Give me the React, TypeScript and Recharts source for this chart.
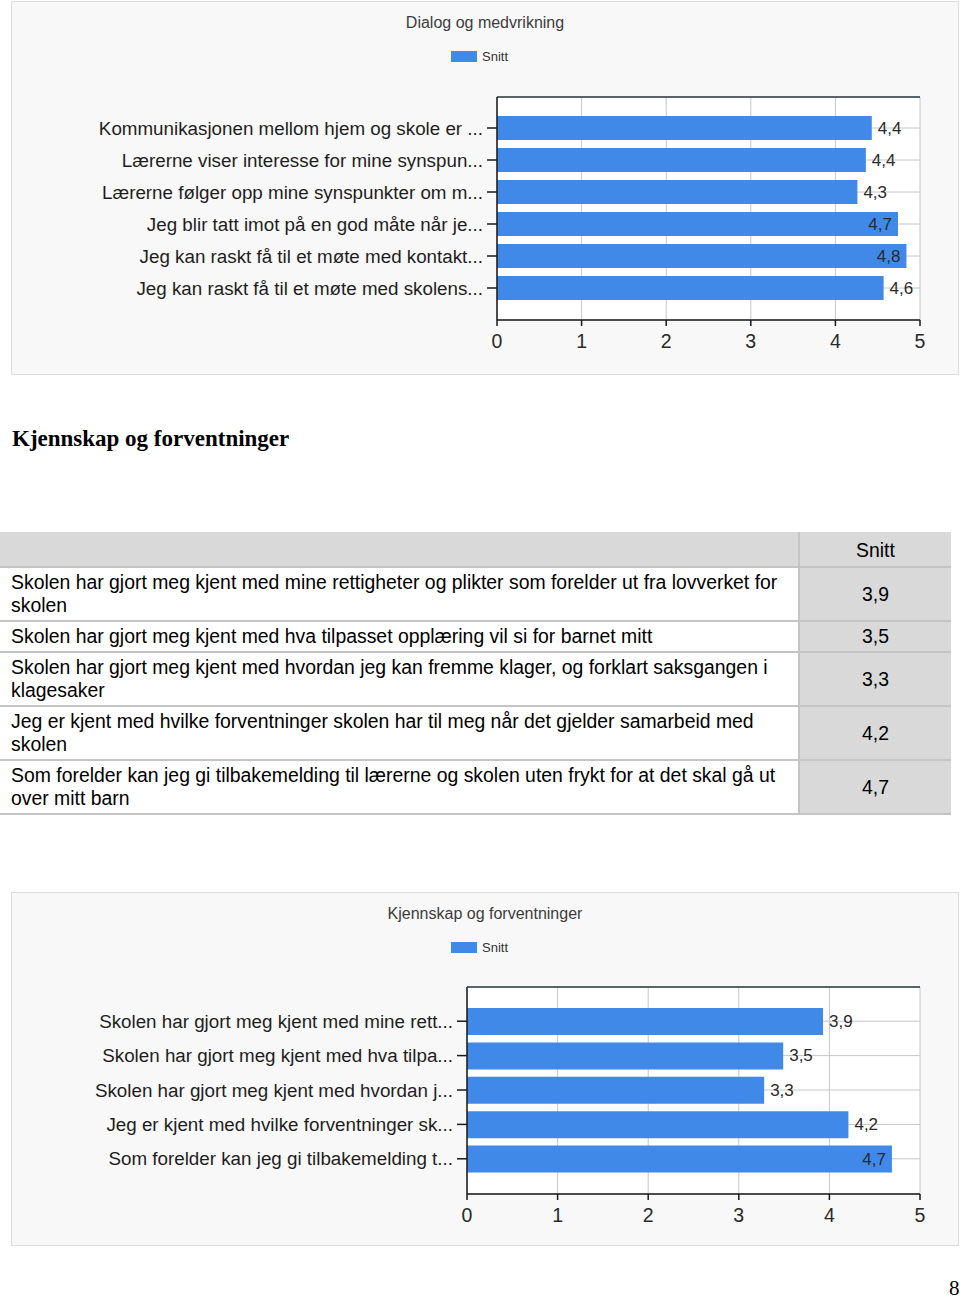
import React from 'react';
import { BarChart, Bar, XAxis, YAxis, CartesianGrid, LabelList } from 'recharts';

const dialogLabels = [
  'Kommunikasjonen mellom hjem og skole er ...',
  'Lærerne viser interesse for mine synspun...',
  'Lærerne følger opp mine synspunkter om m...',
  'Jeg blir tatt imot på en god måte når je...',
  'Jeg kan raskt få til et møte med kontakt...',
  'Jeg kan raskt få til et møte med skolens...',
];
const dialogValues = [4.43, 4.36, 4.26, 4.74, 4.84, 4.57];

const kjennskapLabels = [
  'Skolen har gjort meg kjent med mine rett...',
  'Skolen har gjort meg kjent med hva tilpa...',
  'Skolen har gjort meg kjent med hvordan j...',
  'Jeg er kjent med hvilke forventninger sk...',
  'Som forelder kan jeg gi tilbakemelding t...',
];
const kjennskapValues = [3.93, 3.49, 3.28, 4.21, 4.69];

const tableQuestions = [
  'Skolen har gjort meg kjent med mine rettigheter og plikter som forelder ut fra lovverket for skolen',
  'Skolen har gjort meg kjent med hva tilpasset opplæring vil si for barnet mitt',
  'Skolen har gjort meg kjent med hvordan jeg kan fremme klager, og forklart saksgangen i klagesaker',
  'Jeg er kjent med hvilke forventninger skolen har til meg når det gjelder samarbeid med skolen',
  'Som forelder kan jeg gi tilbakemelding til lærerne og skolen uten frykt for at det skal gå ut over mitt barn',
];

const xTicks = [0, 1, 2, 3, 4, 5];

const BLUE = '#4189e8';
const FONT = '"Liberation Sans", Arial, sans-serif';
const SERIF = '"Liberation Serif", "Times New Roman", serif';
const fmt = (v: number) => v.toFixed(1).replace('.', ',');

// value label: outside the bar if it fits, otherwise inside at the end
const ValueLabel = (props: any) => {
  const { x, y, width, height, value } = props;
  const perUnit = width / value;
  const plotRight = x + 5 * perUnit;
  const end = x + width;
  const inside = end + 30 > plotRight;
  return (
    <text
      x={inside ? end - 6 : end + 6}
      y={y + height / 2}
      textAnchor={inside ? 'end' : 'start'}
      dominantBaseline="central"
      fontSize={17}
      fontFamily={FONT}
      fill="#2a2a2a"
    >
      {fmt(value)}
    </text>
  );
};

type PanelProps = {
  top: number;
  height: number;
  title: string;
  names: string[];
  values: number[];
  axisWidth: number;
  marginTop: number;
  marginBottom: number;
  pad: { top: number; bottom: number };
  barSize: number;
};

function Panel({ top, height, title, names, values, axisWidth, marginTop, marginBottom, pad, barSize }: PanelProps) {
  const data = names.map((name, i) => ({ name, snitt: values[i] }));
  return (
    <div style={{ position: 'absolute', left: 11, top, width: 946, height, background: '#f8f8f8', border: '1px solid #dcdcdc' }}>
      <div style={{ position: 'absolute', left: 0, width: 946, top: 12, textAlign: 'center', fontFamily: FONT, fontSize: 16, color: '#3c3c3c' }}>
        {title}
      </div>
      <div style={{ position: 'absolute', left: 439, top: 47, display: 'flex', alignItems: 'center', fontFamily: FONT, fontSize: 13, color: '#333' }}>
        <span style={{ display: 'inline-block', width: 26, height: 11, background: BLUE, marginRight: 5 }} />
        Snitt
      </div>
      <BarChart
        width={946}
        height={height}
        data={data}
        layout="vertical"
        margin={{ top: marginTop - 1, right: 38, left: 0, bottom: marginBottom }}
        barCategoryGap={0}
      >
        <CartesianGrid stroke="#c6c6c6" fill="#ffffff" />
        <XAxis
          type="number"
          domain={[0, 5]}
          ticks={xTicks}
          interval={0}
          tick={{ fill: '#2a2a2a', fontSize: 19.5, fontFamily: FONT }}
          axisLine={{ stroke: '#1a1a1a', strokeWidth: 1.5 }}
          tickLine={{ stroke: '#1a1a1a', strokeWidth: 1.5 }}
          tickSize={6}
          tickMargin={8}
        />
        <XAxis
          xAxisId="top"
          orientation="top"
          type="number"
          domain={[0, 5]}
          height={1}
          tick={false}
          tickLine={false}
          axisLine={{ stroke: '#2b3a48', strokeWidth: 1.5 }}
        />
        <YAxis
          type="category"
          dataKey="name"
          width={axisWidth}
          padding={pad}
          interval={0}
          tick={{ fill: '#1e1e1e', fontSize: 18.8, fontFamily: FONT }}
          axisLine={{ stroke: '#1a1a1a', strokeWidth: 1.5 }}
          tickLine={{ stroke: '#1a1a1a', strokeWidth: 1.5 }}
          tickSize={10}
          tickMargin={4}
        />
        <YAxis
          yAxisId="right"
          orientation="right"
          type="number"
          domain={[0, 1]}
          width={0}
          tick={false}
          tickLine={false}
          axisLine={{ stroke: '#2b3a48', strokeWidth: 1.5 }}
        />
        <Bar dataKey="snitt" fill={BLUE} barSize={barSize} isAnimationActive={false}>
          <LabelList dataKey="snitt" content={ValueLabel} />
        </Bar>
      </BarChart>
    </div>
  );
}

const cellLine = '2px solid #c4c4c4';

export default function App() {
  return (
    <div style={{ position: 'absolute', left: 0, top: 0, width: 960, height: 1298, background: '#fff' }}>
      <Panel
        top={1}
        height={372}
        title="Dialog og medvrikning"
        names={dialogLabels}
        values={dialogValues}
        axisWidth={485}
        marginTop={95}
        marginBottom={24}
        pad={{ top: 15, bottom: 16 }}
        barSize={24}
      />

      <div style={{ position: 'absolute', left: 12, top: 426, fontFamily: SERIF, fontWeight: 'bold', fontSize: 23, color: '#000' }}>
        Kjennskap og forventninger
      </div>

      <table
        style={{
          position: 'absolute',
          left: 0,
          top: 532,
          width: 951,
          borderCollapse: 'collapse',
          fontFamily: FONT,
          fontSize: 19.4,
          color: '#000',
          lineHeight: '23px',
        }}
      >
        <tbody>
          <tr style={{ height: 35 }}>
            <td style={{ background: '#d9d9d9', borderBottom: cellLine, borderRight: cellLine, width: 796 }} />
            <td style={{ background: '#d9d9d9', borderBottom: cellLine, textAlign: 'center', paddingTop: 4 }}>Snitt</td>
          </tr>
          {tableQuestions.map((q, i) => (
            <tr key={i}>
              <td style={{ padding: '3px 8px 3px 11px', borderBottom: cellLine, borderRight: cellLine, background: '#fff' }}>{q}</td>
              <td style={{ background: '#d9d9d9', borderBottom: cellLine, textAlign: 'center', verticalAlign: 'middle' }}>
                {fmt(kjennskapValues[i])}
              </td>
            </tr>
          ))}
        </tbody>
      </table>

      <Panel
        top={892}
        height={352}
        title="Kjennskap og forventninger"
        names={kjennskapLabels}
        values={kjennskapValues}
        axisWidth={455}
        marginTop={94}
        marginBottom={21}
        pad={{ top: 17, bottom: 18 }}
        barSize={27}
      />

      <div style={{ position: 'absolute', left: 949, top: 1276, fontFamily: SERIF, fontSize: 21, color: '#000' }}>
        8
      </div>
    </div>
  );
}
